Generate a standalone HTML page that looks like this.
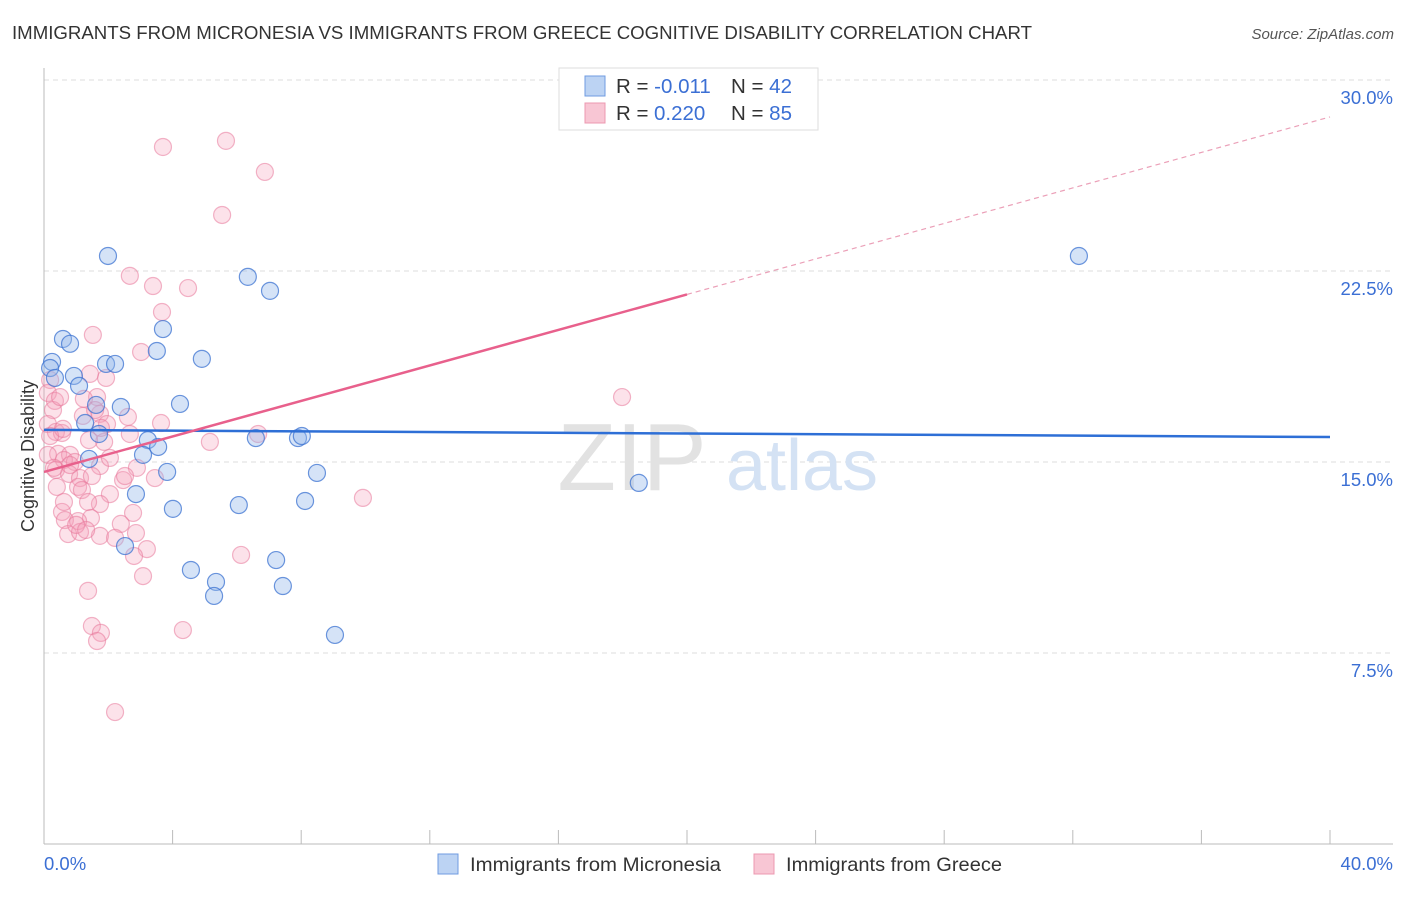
<!DOCTYPE html>
<html><head><meta charset="utf-8"><style>
body{margin:0;background:#fff;font-family:"Liberation Sans",sans-serif}
svg text{font-family:"Liberation Sans",sans-serif}
</style></head><body>
<svg id="chart" width="1406" height="892">
<text x="12" y="39" font-size="18" fill="#333" textLength="1020" lengthAdjust="spacingAndGlyphs">IMMIGRANTS FROM MICRONESIA VS IMMIGRANTS FROM GREECE COGNITIVE DISABILITY CORRELATION CHART</text>
<text x="1394" y="39" font-size="15" fill="#555" text-anchor="end" font-style="italic">Source: ZipAtlas.com</text>
<g id="grid"></g>
<g><text x="632" y="490" font-size="96" fill="#e2e2e2" text-anchor="middle" font-family="Liberation Serif">ZIP</text><text x="802" y="490" font-size="72" fill="#d4e2f4" text-anchor="middle">atlas</text></g>
<g id="points"></g>
<g id="lines"></g>
<text x="34" y="456" font-size="18" fill="#333" text-anchor="middle" transform="rotate(-90 34 456)">Cognitive Disability</text>
<g>
<rect x="559" y="68" width="259" height="62" fill="#fff" stroke="#ddd"/>
<rect x="585" y="76" width="20" height="20" fill="#bcd3f3" stroke="#6f9be0"/>
<rect x="585" y="103" width="20" height="20" fill="#f8c6d4" stroke="#ec98b0"/>
<text x="616" y="93" font-size="20.5" fill="#333">R = <tspan fill="#3b6fd4">-0.011</tspan><tspan x="731">N = </tspan><tspan fill="#3b6fd4">42</tspan></text>
<text x="616" y="120" font-size="20.5" fill="#333">R = <tspan x="654" fill="#3b6fd4">0.220</tspan><tspan x="731">N = </tspan><tspan fill="#3b6fd4">85</tspan></text>
</g>
<g>
<rect x="438" y="854" width="20" height="20" fill="#bcd3f3" stroke="#6f9be0"/>
<text x="470" y="871" font-size="19.5" fill="#333" textLength="251" lengthAdjust="spacingAndGlyphs">Immigrants from Micronesia</text>
<rect x="754" y="854" width="20" height="20" fill="#f8c6d4" stroke="#ec98b0"/>
<text x="786" y="871" font-size="19.5" fill="#333" textLength="216" lengthAdjust="spacingAndGlyphs">Immigrants from Greece</text>
</g>
</svg>
<script>
const yTicks=[7.5,15,22.5,30];
const yTickLabels=["7.5%","15.0%","22.5%","30.0%"];
const xTickLabels=["0.0%","40.0%"];
const blueX=[1.99,6.34,7.03,3.70,0.59,0.81,0.25,0.19,4.91,3.51,1.93,2.21,0.34,0.93,1.09,4.23,2.39,1.62,1.28,1.71,3.23,3.55,6.59,7.90,8.02,3.08,3.83,8.49,1.40,2.86,8.12,6.06,4.01,2.52,7.22,4.57,5.35,5.29,7.43,9.05,32.19,18.50];
const blueY=[23.09,22.27,21.72,20.22,19.83,19.64,18.93,18.69,19.05,19.36,18.85,18.85,18.30,18.38,17.99,17.28,17.16,17.24,16.53,16.10,15.86,15.59,15.94,15.94,16.02,15.28,14.61,14.57,15.12,13.74,13.47,13.31,13.16,11.70,11.15,10.76,10.29,9.74,10.13,8.21,23.09,14.18];
const pinkX=[3.70,5.66,6.87,5.54,2.67,3.39,4.48,3.67,1.52,3.02,1.93,1.43,0.19,0.12,0.34,0.28,1.65,1.24,1.21,1.74,2.61,1.96,0.12,0.37,0.56,0.19,0.59,2.67,5.16,6.66,1.87,1.40,0.44,0.81,0.62,0.37,0.96,1.74,2.89,0.78,1.12,1.49,3.45,2.46,0.40,1.06,1.18,2.05,1.74,1.37,0.56,0.65,1.46,2.77,2.39,1.06,0.75,1.12,1.74,2.86,2.21,3.20,2.80,3.08,6.13,1.37,1.49,1.77,1.65,4.32,2.21,9.92,17.98,3.64,0.12,0.31,0.81,1.00,0.62,1.31,2.05,1.77,2.52,1.59,0.50];
const pinkY=[27.37,27.61,26.39,24.70,22.31,21.91,21.83,20.89,19.99,19.32,18.30,18.46,18.22,17.71,17.40,17.04,17.55,17.48,16.81,16.89,16.77,16.49,16.49,16.18,16.14,16.02,16.30,16.10,15.79,16.10,15.79,15.86,15.32,15.28,15.08,14.69,15.00,14.84,14.77,14.53,14.37,14.45,14.37,14.29,14.02,14.02,13.90,13.74,13.35,13.43,13.04,12.72,12.80,13.00,12.57,12.68,12.17,12.25,12.10,12.21,12.02,11.58,11.31,10.52,11.35,9.94,8.56,8.29,7.97,8.40,5.18,13.59,17.55,16.53,15.28,14.77,14.88,12.53,13.43,12.33,15.16,16.34,14.45,17.04,17.55];
const blueTrend=[16.26,15.98];
const pinkTrend=[14.61,28.55];
const pinkSolidEnd=20;

const X=v=>44+v/40*1286;
const Y=v=>844-v/30*764;
const NS="http://www.w3.org/2000/svg";
function mk(tag,attrs,parent){const e=document.createElementNS(NS,tag);for(const k in attrs)e.setAttribute(k,attrs[k]);parent.appendChild(e);return e;}
const grid=document.getElementById('grid');
yTicks.forEach((t,i)=>{
 const l=mk('line',{x1:44,x2:1393,y1:Y(t),y2:Y(t),stroke:'#ddd','stroke-dasharray':'5,4'},grid);
 
 
 const tx=mk('text',{x:1393,y:Y(t)+24,'font-size':18.5,fill:'#3b6fd4','text-anchor':'end'},grid);
 tx.textContent=yTickLabels[i];
 
 
});
let a=mk('line',{x1:44,x2:44,y1:68,y2:844,stroke:'#bbb'},grid);


a=mk('line',{x1:44,x2:1393,y1:844,y2:844,stroke:'#bbb'},grid);


for(let i=1;i<=10;i++){
 const t=mk('line',{x1:X(i*4),x2:X(i*4),y1:830,y2:844,stroke:'#bbb'},grid);
 
 
}
let xl=mk('text',{x:44,y:870,'font-size':18.5,fill:'#3b6fd4'},grid);xl.textContent=xTickLabels[0];


xl=mk('text',{x:1393,y:870,'font-size':18.5,fill:'#3b6fd4','text-anchor':'end'},grid);xl.textContent=xTickLabels[1];


const pts=document.getElementById('points');
pinkX.forEach((v,i)=>{
 const c=mk('circle',{cx:X(v),cy:Y(pinkY[i]),r:8.5,fill:'rgba(244,160,185,0.3)',stroke:'rgba(232,120,155,0.55)','stroke-width':1.2},pts);
 
 
});
blueX.forEach((v,i)=>{
 const c=mk('circle',{cx:X(v),cy:Y(blueY[i]),r:8.5,fill:'rgba(150,185,235,0.4)',stroke:'rgba(60,115,210,0.75)','stroke-width':1.2},pts);
 
 
});
const lines=document.getElementById('lines');
let l=mk('line',{x1:X(0),y1:Y(blueTrend[0]),x2:X(40),y2:Y(blueTrend[1]),stroke:'#2e6fd6','stroke-width':2.5},lines);


const pm=pinkTrend[0]+(pinkTrend[1]-pinkTrend[0])*pinkSolidEnd/40;
l=mk('line',{x1:X(0),y1:Y(pinkTrend[0]),x2:X(pinkSolidEnd),y2:Y(pm),stroke:'#e8608c','stroke-width':2.5},lines);


l=mk('line',{x1:X(pinkSolidEnd),y1:Y(pm),x2:X(40),y2:Y(pinkTrend[1]),stroke:'#eba0b8','stroke-width':1.2,'stroke-dasharray':'5,4'},lines);


</script>
</body></html>
